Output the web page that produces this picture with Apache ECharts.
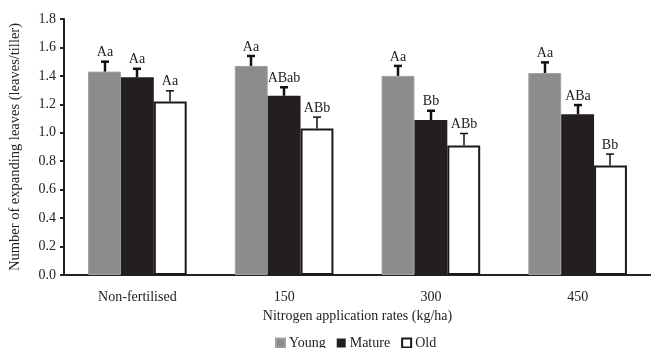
<!DOCTYPE html>
<html>
<head>
<meta charset="utf-8">
<script src="https://cdn.jsdelivr.net/npm/echarts@6/dist/echarts.min.js"></script>
<style>
  html, body { margin: 0; padding: 0; background: #fff; }
  #chart { width: 651px; height: 348px; }
</style>
</head>
<body>
<div id="chart"></div>
<script>
// groups on the x axis
const categories = ["Non-fertilised", "150", "300", "450"];

// mean values (leaves/tiller)
const young = [1.43, 1.47, 1.40, 1.42];
const mature = [1.39, 1.26, 1.09, 1.13];
const old = [1.22, 1.03, 0.91, 0.77];

// standard errors (upper bar only)
const youngErr = [0.07, 0.07, 0.07, 0.075];
const matureErr = [0.06, 0.06, 0.065, 0.065];
const oldErr = [0.075, 0.08, 0.085, 0.08];

// significance letters
const youngLetters = ["Aa", "Aa", "Aa", "Aa"];
const matureLetters = ["Aa", "ABab", "Bb", "ABa"];
const oldLetters = ["Aa", "ABb", "ABb", "Bb"];

const yTicks = [0, 0.2, 0.4, 0.6, 0.8, 1.0, 1.2, 1.4, 1.6, 1.8];

const font = "Liberation Serif";
const BAR_FRAC = 0.224;

const chart = echarts.init(document.getElementById("chart"));

// error bar + letter, shifted to the bar's slot inside the group
function errSeries(name, means, errs, letters, slot, lineW) {
  return {
    name: name,
    type: "custom",
    z: 5,
    data: means.map((m, i) => [i, m, m + errs[i], letters[i]]),
    renderItem: function (params, api) {
      const catW = api.size([1, 0])[0];
      const bw = catW * BAR_FRAC;
      const base = api.coord([api.value(0), api.value(1)]);
      const top = api.coord([api.value(0), api.value(2)]);
      const x = Math.round(base[0] + slot * bw);
      const cap = 4;
      return {
        type: "group",
        children: [
          { type: "line", shape: { x1: x, y1: base[1], x2: x, y2: top[1] }, style: { stroke: "#111", lineWidth: lineW } },
          { type: "line", shape: { x1: x - cap, y1: top[1], x2: x + cap, y2: top[1] }, style: { stroke: "#111", lineWidth: lineW } },
          { type: "text", x: x, y: top[1] - 2, style: { text: api.value(3), font: "14px '" + font + "'", fill: "#222", align: "center", verticalAlign: "bottom" } }
        ]
      };
    },
    tooltip: { show: false }
  };
}

chart.setOption({
  animation: false,
  textStyle: { fontFamily: font },
  grid: { left: 62, right: 0, top: 19, bottom: 73 },
  legend: {
    top: 331,
    left: 270,
    icon: "rect",
    itemWidth: 9,
    itemHeight: 9,
    itemGap: 11,
    textStyle: { fontFamily: font, fontSize: 14, color: "#222", padding: [0, 0, 0, -1] },
    data: ["Young", "Mature", "Old"]
  },
  xAxis: {
    type: "category",
    data: categories,
    axisLine: { lineStyle: { color: "#222", width: 2 } },
    axisTick: { show: false },
    axisLabel: { fontFamily: font, fontSize: 14, color: "#222", margin: 15 },
    name: "Nitrogen application rates (kg/ha)",
    nameLocation: "middle",
    nameGap: 34,
    nameTextStyle: { fontFamily: font, fontSize: 14, color: "#222" }
  },
  yAxis: {
    type: "value",
    min: 0,
    max: 1.8,
    interval: 0.2,
    splitLine: { show: false },
    axisLine: { show: true, lineStyle: { color: "#222", width: 2 } },
    axisTick: { show: true, length: 4, lineStyle: { color: "#222", width: 2 } },
    axisLabel: {
      fontFamily: font, fontSize: 14, color: "#222", margin: 8,
      formatter: v => (yTicks.some(t => Math.abs(t - v) < 1e-6) ? v.toFixed(1) : "")
    },
    name: "Number of expanding leaves (leaves/tiller)",
    nameLocation: "middle",
    nameGap: 41,
    nameTextStyle: { fontFamily: font, fontSize: 14.5, color: "#222" }
  },
  series: [
    {
      name: "Young", type: "bar", data: young,
      barWidth: (BAR_FRAC * 100) + "%", barGap: "0%",
      itemStyle: { color: "#8c8c8c", borderColor: "#a0a0a0", borderWidth: 1 }
    },
    {
      name: "Mature", type: "bar", data: mature,
      barWidth: (BAR_FRAC * 100) + "%", barGap: "0%",
      itemStyle: { color: "#231f20" }
    },
    {
      name: "Old", type: "bar", data: old,
      barWidth: (BAR_FRAC * 100) + "%", barGap: "0%",
      itemStyle: { color: "#ffffff", borderColor: "#1a1a1a", borderWidth: 2 }
    },
    errSeries("Young", young, youngErr, youngLetters, -1, 2.5),
    errSeries("Mature", mature, matureErr, matureLetters, 0, 2.5),
    errSeries("Old", old, oldErr, oldLetters, 1, 1.5)
  ]
});
</script>
</body>
</html>
